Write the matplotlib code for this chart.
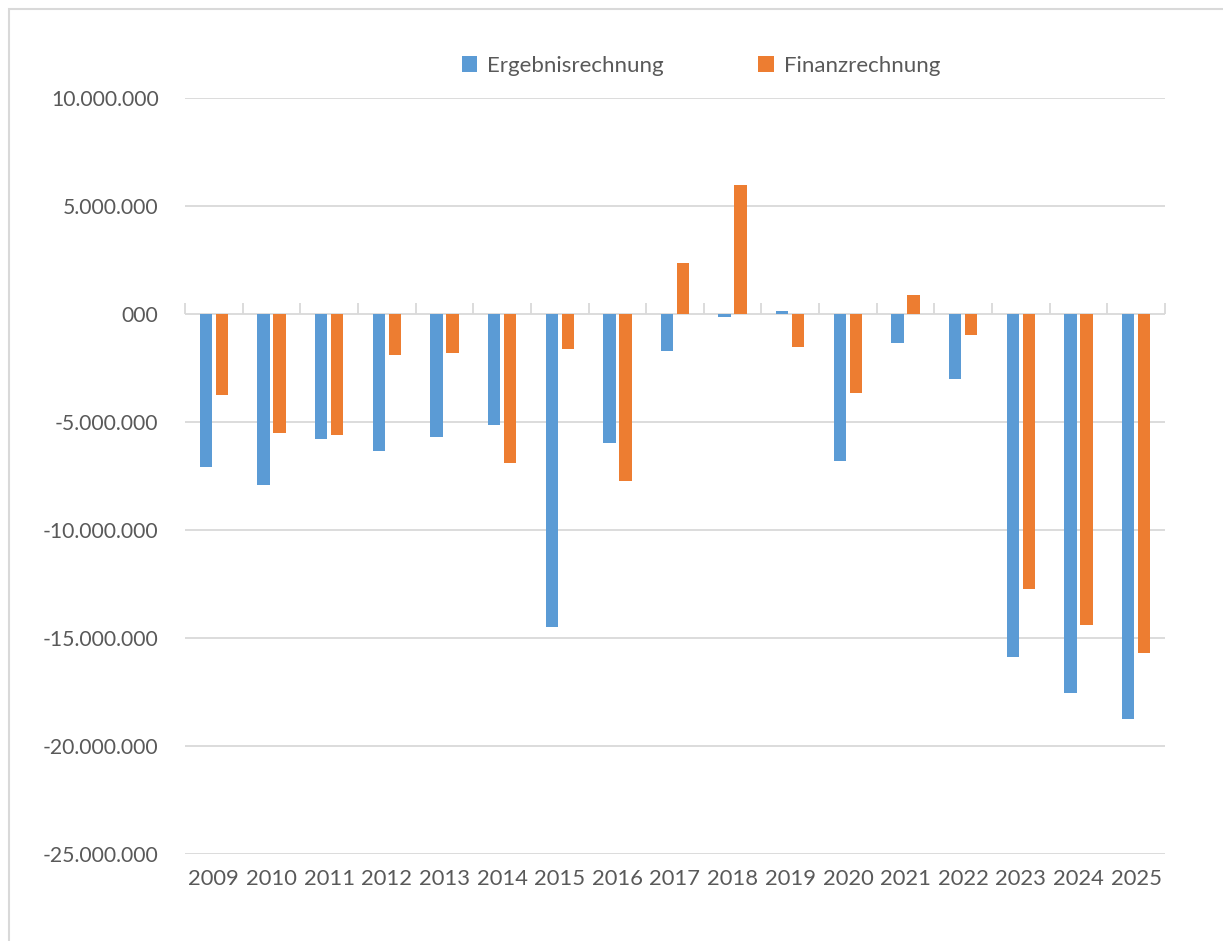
import numpy as np
import matplotlib.pyplot as plt
from matplotlib.patches import Rectangle

years = ['2009', '2010', '2011', '2012', '2013', '2014', '2015', '2016', '2017',
         '2018', '2019', '2020', '2021', '2022', '2023', '2024', '2025']
ergebnis = [-7.07, -7.90, -5.77, -6.33, -5.68, -5.12, -14.49, -5.96, -1.71,
            -0.12, 0.14, -6.79, -1.34, -3.01, -15.88, -17.55, -18.75]
finanz = [-3.75, -5.49, -5.60, -1.88, -1.79, -6.88, -1.62, -7.72, 2.36,
          5.97, -1.53, -3.64, 0.88, -0.96, -12.73, -14.40, -15.69]
ytick_vals = [10, 5, 0, -5, -10, -15, -20, -25]
ytick_labels = ['10.000.000', '5.000.000', '000', '-5.000.000', '-10.000.000',
                '-15.000.000', '-20.000.000', '-25.000.000']

plt.rcParams['font.family'] = ['Lato', 'DejaVu Sans']
text_col = '#595959'
grid_col = '#D9D9D9'

fig = plt.figure(figsize=(12.23, 9.41), dpi=100)
ax = fig.add_axes([185 / 1223, 1 - 854 / 941, 980 / 1223, 756 / 941])

# chart area border (left and top edges visible)
fig.patches.append(Rectangle((9 / 1223, -0.1), 1.2, 1 - 9 / 941 + 0.1,
                             transform=fig.transFigure, fill=False,
                             edgecolor=grid_col, linewidth=1.5))

x = np.arange(len(years))
w = 0.214
off = 0.139
ax.bar(x - off, np.array(ergebnis) * 1e6, width=w, color='#5B9BD5',
       label='Ergebnisrechnung', zorder=3)
ax.bar(x + off, np.array(finanz) * 1e6, width=w, color='#ED7D31',
       label='Finanzrechnung', zorder=3)

ax.set_xlim(-0.5, len(years) - 0.5)
ax.set_ylim(-25e6, 10e6)
ax.set_yticks(np.array(ytick_vals) * 1e6)
ax.set_yticklabels(ytick_labels)
ax.set_xticks(x)
ax.set_xticklabels(years)
ax.tick_params(axis='y', length=0, pad=19, labelsize=15.2, labelcolor=text_col)
ax.tick_params(axis='x', length=0, pad=11, labelsize=15.8, labelcolor=text_col)
ax.grid(axis='y', color=grid_col, linewidth=1.3, zorder=0)
for s in ax.spines.values():
    s.set_visible(False)

# category axis at zero with boundary ticks
loc0 = (0 - ax.get_ylim()[0]) / (ax.get_ylim()[1] - ax.get_ylim()[0])
sec = ax.secondary_xaxis(loc0)
sec.set_xticks(np.arange(len(years) + 1) - 0.5)
sec.set_xticklabels([])
sec.tick_params(direction='out', length=8, width=1.3, color=grid_col)
sec.spines['bottom'].set_color(grid_col)
sec.spines['bottom'].set_linewidth(1.3)
sec.spines['top'].set_visible(False)

leg = fig.legend(loc='center', bbox_to_anchor=(701 / 1223, 1 - 66 / 941), ncol=2,
                 frameon=False, fontsize=16, handlelength=0.7, handleheight=0.7,
                 handletextpad=0.45, columnspacing=4.25)
for t in leg.get_texts():
    t.set_color(text_col)

fig.savefig('out.png', dpi=100)
